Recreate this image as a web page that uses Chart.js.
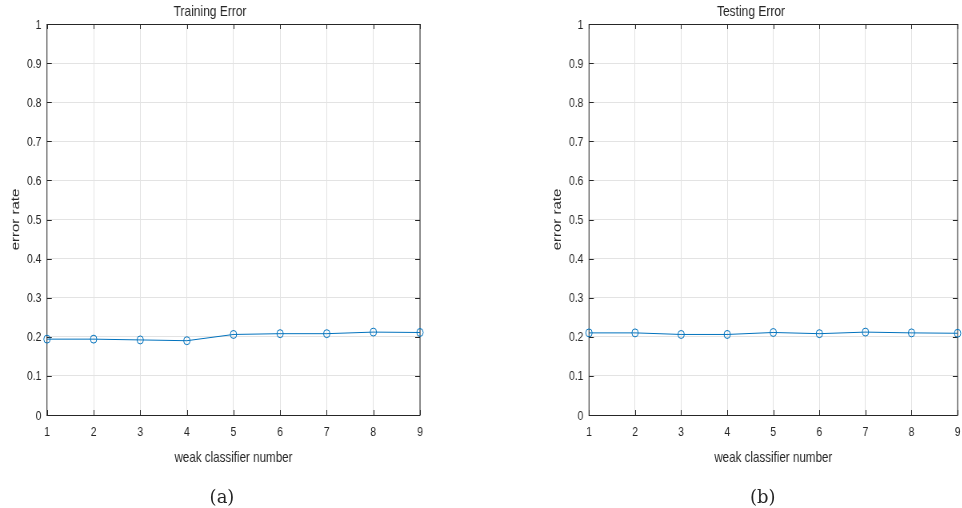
<!DOCTYPE html>
<html>
<head>
<meta charset="utf-8">
<script src="https://cdn.jsdelivr.net/npm/chart.js@4.4.1/dist/chart.umd.min.js"></script>
<style>
  html, body { margin: 0; padding: 0; background: #fff; overflow: hidden; }
  /* the figure was squeezed horizontally, so draw it wider and scale it down */
  #figure { position: absolute; left: 0; top: 0; width: 1202.5px; height: 508px;
            transform: scaleX(0.8); transform-origin: 0 0; }
  canvas { position: absolute; top: 0; }
  /* captions are not squeezed */
  .caption { position: absolute; top: 486px; width: 125px; height: 22px; line-height: 22px;
             text-align: center; font-family: "DejaVu Serif", serif; font-size: 18px; color: #262626;
             transform: scaleX(1.25); transform-origin: 50% 50%; }
</style>
</head>
<body>
<div id="figure">
  <canvas id="trainChart" width="601" height="508" style="left:0"></canvas>
  <canvas id="testChart" width="601" height="508" style="left:601px"></canvas>
  <div class="caption" style="left:215px">(a)</div>
  <div class="caption" style="left:891.25px">(b)</div>
</div>
<script>
// Data
const classifierNumbers = ['1', '2', '3', '4', '5', '6', '7', '8', '9'];
const trainingError = [0.194, 0.194, 0.192, 0.190, 0.206, 0.208, 0.208, 0.212, 0.211];
const testingError = [0.210, 0.210, 0.206, 0.206, 0.211, 0.208, 0.212, 0.210, 0.209];
const yTickLabels = ['0', '0.1', '0.2', '0.3', '0.4', '0.5', '0.6', '0.7', '0.8', '0.9', '1'];

const axisColor = '#262626';
const lineColor = '#0072BD';
const sansFont = '"Liberation Sans", Arial, sans-serif';

// MATLAB style box with ticks pointing inwards
const boxPlugin = {
    id: 'matlabBox',
    beforeDatasetsDraw(chart) {
        const ctx = chart.ctx;
        const area = chart.chartArea;
        const x = chart.scales.x;
        const y = chart.scales.y;
        ctx.save();
        ctx.strokeStyle = axisColor;
        ctx.lineWidth = 1;
        ctx.beginPath();
        x.ticks.forEach((t, i) => {
            const px = Math.round(x.getPixelForTick(i)) + 0.5;
            ctx.moveTo(px, area.bottom);
            ctx.lineTo(px, area.bottom - 5);
            ctx.moveTo(px, area.top);
            ctx.lineTo(px, area.top + 5);
        });
        y.ticks.forEach((t, i) => {
            const py = Math.round(y.getPixelForTick(i)) + 0.5;
            ctx.moveTo(area.left, py);
            ctx.lineTo(area.left + 6, py);
            ctx.moveTo(area.right, py);
            ctx.lineTo(area.right - 6, py);
        });
        ctx.stroke();
        ctx.strokeRect(area.left, Math.round(area.top) + 0.5, area.right - area.left, Math.round(area.bottom - area.top));
        ctx.restore();
    }
};

function makeChart(canvasId, title, values, leftPad, rightPad) {
    return new Chart(document.getElementById(canvasId), {
        type: 'line',
        data: {
            labels: classifierNumbers,
            datasets: [{
                data: values,
                borderColor: lineColor,
                borderWidth: 1,
                pointRadius: 4,
                pointBorderWidth: 1,
                pointBorderColor: lineColor,
                pointBackgroundColor: 'rgba(0,0,0,0)',
                tension: 0,
                clip: false
            }]
        },
        options: {
            responsive: false,
            animation: false,
            events: [],
            layout: { padding: { left: leftPad, right: rightPad, top: 0, bottom: 0 } },
            plugins: {
                legend: { display: false },
                tooltip: { enabled: false },
                title: {
                    display: true,
                    text: title,
                    color: axisColor,
                    font: { family: sansFont, size: 15, weight: 'normal' },
                    padding: { top: 3, bottom: 3 }
                }
            },
            scales: {
                x: {
                    type: 'category',
                    offset: false,
                    border: { display: false },
                    grid: { color: '#e3e3e3', lineWidth: 1, drawTicks: false },
                    ticks: { color: axisColor, padding: 10, maxRotation: 0, autoSkip: false,
                             font: { family: sansFont, size: 13 } },
                    title: {
                        display: true,
                        text: 'weak classifier number',
                        color: axisColor,
                        font: { family: sansFont, size: 14.5 },
                        padding: { top: 0, bottom: 41 }
                    },
                    afterFit(scale) {
                        scale.height = 93;
                        scale.paddingLeft = 0;
                        scale.paddingRight = 0;
                    }
                },
                y: {
                    min: 0,
                    max: 1,
                    border: { display: false },
                    grid: { color: '#e3e3e3', lineWidth: 1, drawTicks: false },
                    ticks: {
                        stepSize: 0.1,
                        color: axisColor,
                        padding: 7,
                        labelOffset: 1,
                        font: { family: sansFont, size: 13 },
                        callback: (v, i) => yTickLabels[i]
                    },
                    title: {
                        display: true,
                        text: 'error rate',
                        color: axisColor,
                        font: { family: sansFont, size: 15 },
                        padding: { top: 10.8, bottom: 0 }
                    },
                    afterFit(scale) {
                        scale.width = 58.75;
                    }
                }
            }
        },
        plugins: [boxPlugin]
    });
}

makeChart('trainChart', 'Training Error', trainingError, 0, 76);
makeChart('testChart', 'Testing Error', testingError, 76.5, 2);
</script>
</body>
</html>
